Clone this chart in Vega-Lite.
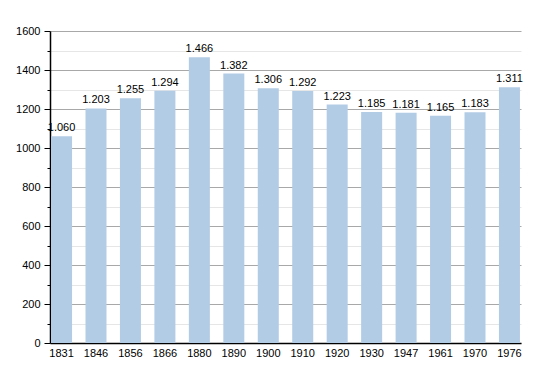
{
  "$schema": "https://vega.github.io/schema/vega-lite/v6.json",
  "autosize": "none",
  "padding": {"left": 50, "top": 31, "right": 29, "bottom": 30},
  "width": 471,
  "height": 312,
  "background": "white",
  "config": {
    "locale": {"number": {"decimal": ",", "thousands": ".", "grouping": [3], "currency": ["", " €"]}},
    "view": {"stroke": null},
    "font": "Liberation Sans"
  },
  "data": {"values": [
    {"year": "1831", "pop": 1060},
    {"year": "1846", "pop": 1203},
    {"year": "1856", "pop": 1255},
    {"year": "1866", "pop": 1294},
    {"year": "1880", "pop": 1466},
    {"year": "1890", "pop": 1382},
    {"year": "1900", "pop": 1306},
    {"year": "1910", "pop": 1292},
    {"year": "1920", "pop": 1223},
    {"year": "1930", "pop": 1185},
    {"year": "1947", "pop": 1181},
    {"year": "1961", "pop": 1165},
    {"year": "1970", "pop": 1183},
    {"year": "1976", "pop": 1311}
  ]},
  "encoding": {
    "x": {"field": "year", "type": "ordinal", "sort": null,
      "scale": {"paddingInner": 0.39, "paddingOuter": 0.03},
      "axis": {"title": null, "labelAngle": 0, "labelFontSize": 11, "labelColor": "#000", "domainColor": "#000", "domainWidth": 1.5, "ticks": false, "labelPadding": 4}},
    "y": {"field": "pop", "type": "quantitative",
      "scale": {"domain": [0, 1600], "nice": false},
      "axis": {"title": null, "values": [0,100,200,300,400,500,600,700,800,900,1000,1100,1200,1300,1400,1500,1600],
        "format": "d",
        "labelExpr": "datum.value % 200 === 0 ? datum.label : ''",
        "labelFontSize": 11, "labelColor": "#000", "labelPadding": 4,
        "domainColor": "#000", "domainWidth": 1.5,
        "tickColor": "#000",
        "tickSize": {"condition": {"test": "datum.value % 200 === 0", "value": 6}, "value": 3},
        "gridColor": {"condition": {"test": "datum.value % 200 === 0", "value": "#a8a8a8"}, "value": "#e6e6e6"},
        "gridWidth": 1}}
  },
  "layer": [
    {"mark": {"type": "bar", "color": "#b3cce6"}},
    {"mark": {"type": "text", "baseline": "bottom", "dy": -3, "fontSize": 11, "color": "#000"},
     "encoding": {"text": {"field": "pop", "type": "quantitative", "format": ",d"}}}
  ]
}
